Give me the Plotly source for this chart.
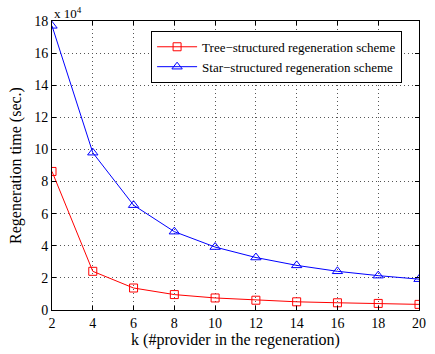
import plotly.graph_objects as go

k = [2, 4, 6, 8, 10, 12, 14, 16, 18, 20]
tree = [8.63, 2.41, 1.37, 0.96, 0.75, 0.61, 0.51, 0.45, 0.41, 0.35]
star = [17.7, 9.8, 6.53, 4.88, 3.92, 3.27, 2.78, 2.41, 2.14, 1.92]
xticks = [2, 4, 6, 8, 10, 12, 14, 16, 18, 20]
yticks = [0, 2, 4, 6, 8, 10, 12, 14, 16, 18]

font = "Liberation Serif"

fig = go.Figure()
fig.add_trace(go.Scatter(x=k, y=tree, mode="lines+markers",
                         name="Tree\u2212structured regeneration scheme",
                         line=dict(color="red", width=1),
                         marker=dict(symbol="square-open", size=8, color="red", line=dict(width=1))))
fig.add_trace(go.Scatter(x=k, y=star, mode="lines+markers",
                         name="Star\u2212structured regeneration scheme",
                         line=dict(color="blue", width=1),
                         marker=dict(symbol="triangle-up-open", size=9, color="blue", line=dict(width=1))))

axis_common = dict(showline=True, linecolor="black", linewidth=1, mirror="allticks",
                   ticks="inside", ticklen=4, tickcolor="black",
                   showgrid=True, gridcolor="#555", griddash="1px,3px", gridwidth=1,
                   zeroline=False, tickfont=dict(family=font, size=14, color="black"))

fig.update_xaxes(range=[2, 20], tickvals=xticks,
                 title=dict(text="k (#provider in the regeneration)", font=dict(family=font, size=16, color="black"), standoff=3),
                 **axis_common)
fig.update_yaxes(range=[0, 18], tickvals=yticks,
                 title=dict(text="Regeneration time (sec.)", font=dict(family=font, size=16, color="black"), standoff=8),
                 **axis_common)

fig.add_annotation(text="x 10<sup>4</sup>", xref="paper", yref="paper", x=0, y=1.0,
                   xanchor="left", yanchor="bottom", showarrow=False,
                   font=dict(family=font, size=13, color="black"), yshift=-2)

fig.update_layout(width=435, height=354, margin=dict(l=52, r=9, t=21, b=39),
                  plot_bgcolor="white", paper_bgcolor="white",
                  font=dict(family=font),
                  legend=dict(x=0.27, y=0.966, xanchor="left", yanchor="top",
                              bgcolor="white", bordercolor="black", borderwidth=1,
                              font=dict(family=font, size=13, color="black"),
                              tracegroupgap=0, itemwidth=40,
                              entrywidth=262, entrywidthmode="pixels"),
                  showlegend=True)

fig.write_html("out.html")
